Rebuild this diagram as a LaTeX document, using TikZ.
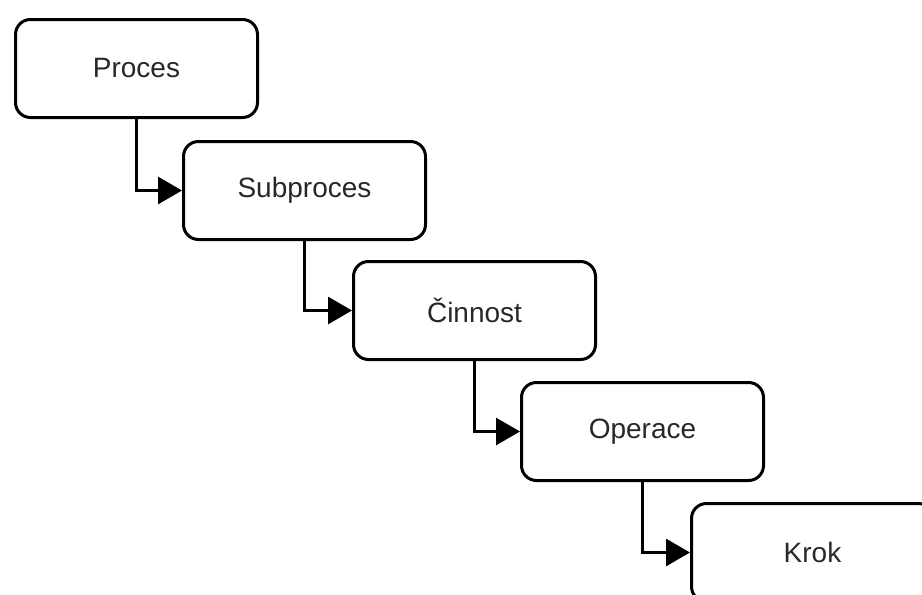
\documentclass[tikz,border=0pt]{standalone}
\usepackage{fontspec}
\setmainfont{Liberation Sans}
\usetikzlibrary{arrows.meta}
\definecolor{txt}{RGB}{40,40,40}
\begin{document}
\begin{tikzpicture}[x=1pt,y=-1pt,
  stepbox/.style={draw=black, line width=3pt, rounded corners=15pt, fill=white,
    minimum width=242pt, minimum height=98pt, inner sep=0pt, anchor=north west,
    text=txt, font=\fontsize{28}{32}\selectfont},
  link/.style={draw=black, line width=3pt, -{Triangle[length=24pt,width=27pt]}}]
  \useasboundingbox (0,0) rectangle (922,595);
  \clip (0,0) rectangle (922,595);
  \node[stepbox] (proces) at (14,18) {Proces};
  \node[stepbox] (sub) at (182,140) {Subproces};
  \node[stepbox] (cinn) at (352,260) {Činnost};
  \node[stepbox] (oper) at (520,381) {Operace};
  \node[stepbox] (krok) at (690,502) {Krok};
  \draw[link] (proces.south) |- (sub.west);
  \draw[link] (sub.south) |- (cinn.west);
  \draw[link] (cinn.south) |- (oper.west);
  \draw[link] (oper.south) |- (krok.west);
\end{tikzpicture}
\end{document}
